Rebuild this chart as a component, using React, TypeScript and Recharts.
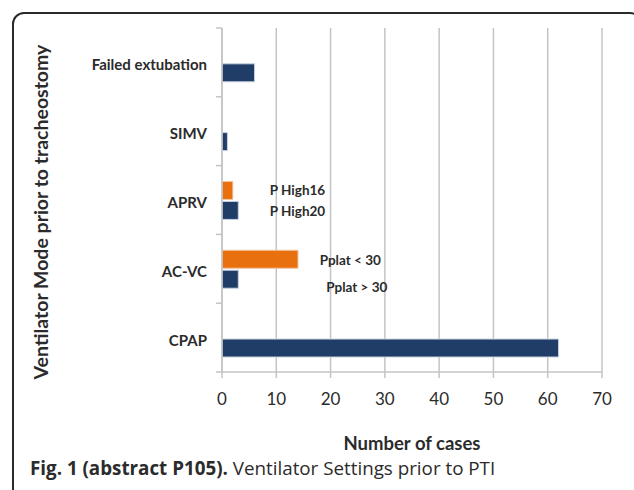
import React from "react";
import {
  BarChart,
  Bar,
  XAxis,
  YAxis,
  CartesianGrid,
  ReferenceDot,
  Label,
} from "recharts";

const modes = ["Failed extubation", "SIMV", "APRV", "AC-VC", "CPAP"];
const lowPressureCases = [0, 0, 2, 14, 0];
const highPressureCases = [6, 1, 3, 3, 62];
const caseTicks = [0, 10, 20, 30, 40, 50, 60, 70];

// bar annotations (text, category, position on the case axis)
const noteTexts = ["P High16", "P High20", "Pplat < 30", "Pplat > 30"];
const noteModes = ["APRV", "APRV", "AC-VC", "AC-VC"];
const noteAt = [8.8, 8.8, 18, 19.2];

const noteDy = [-10, 11, -9, 18];

const data = modes.map((mode, i) => ({
  mode,
  low: lowPressureCases[i],
  high: highPressureCases[i],
}));

const FONT = "Lato, 'Open Sans', sans-serif";
const BLUE = "#203d68";
const ORANGE = "#e8700e";
const GRID = "#c4c4c4";
const TICK_GAP = 15;

const CategoryTick = (props: any) => {
  const { x, y, payload, index } = props;
  const half = payload?.offset ?? 34.4;
  const axisX = x + TICK_GAP;
  return (
    <g>
      <text
        x={x}
        y={y}
        dy={8}
        textAnchor="end"
        fontFamily={FONT}
        fontWeight={700}
        fontSize={15}
        fill="#2b2b2b"
      >
        {payload.value}
      </text>
      <line x1={axisX - 6} x2={axisX} y1={y + half} y2={y + half} stroke={GRID} strokeWidth={1.5} />
      {index === 0 && (
        <line x1={axisX - 6} x2={axisX} y1={y - half} y2={y - half} stroke={GRID} strokeWidth={1.5} />
      )}
    </g>
  );
};

const YTitle = (props: any) => {
  const vb = props.viewBox || { x: 0, y: 0, width: 0, height: 0 };
  const cx = 40;
  const cy = vb.y + vb.height / 2 + 12;
  return (
    <text
      x={cx}
      y={cy}
      transform={`rotate(-90, ${cx}, ${cy})`}
      textAnchor="middle"
      dominantBaseline="central"
      fontFamily={FONT}
      fontWeight={700}
      fontSize={19.5}
      fill="#2b2b2b"
    >
      Ventilator Mode prior to tracheostomy
    </text>
  );
};

export default function App() {
  return (
    <div
      style={{
        position: "absolute",
        left: 0,
        top: 0,
        width: 634,
        height: 490,
        overflow: "hidden",
        background: "#fff",
      }}
    >
      {/* rounded frame */}
      <div
        style={{
          position: "absolute",
          left: 12,
          top: 12,
          width: 630,
          height: 520,
          border: "2px solid #2a2a2a",
          borderRadius: 12,
          boxSizing: "border-box",
        }}
      />

      <div style={{ position: "absolute", left: 0, top: 0 }}>
        <BarChart
          width={634}
          height={470}
          data={data}
          layout="vertical"
          margin={{ top: 28, right: 32, left: 0, bottom: 16 }}
          barCategoryGap="23%"
          barGap={2}
        >
          <CartesianGrid horizontal={false} stroke={GRID} strokeWidth={1.5} />
          <XAxis
            type="number"
            domain={[0, 70]}
            ticks={caseTicks}
            height={82}
            axisLine={{ stroke: GRID, strokeWidth: 1.5 }}
            tickLine={{ stroke: GRID, strokeWidth: 1.5 }}
            tickSize={6}
            tickMargin={15}
            tick={{ fill: "#2b2b2b", fontSize: 17, fontFamily: FONT }}
          >
            <Label
              value="Number of cases"
              position="insideBottom"
              offset={4}
              style={{
                fontFamily: FONT,
                fontWeight: 700,
                fontSize: 18.5,
                fill: "#2b2b2b",
              }}
            />
          </XAxis>
          <YAxis
            type="category"
            dataKey="mode"
            width={222}
            axisLine={{ stroke: GRID, strokeWidth: 1.5 }}
            tickLine={false}
            tickSize={0}
            tickMargin={TICK_GAP}
            tick={<CategoryTick />}
            interval={0}
          >
            <Label content={<YTitle />} />
          </YAxis>
          <Bar
            dataKey="low"
            fill={ORANGE}
            stroke="#f3c7a3"
            strokeWidth={1}
            isAnimationActive={false}
          />
          <Bar
            dataKey="high"
            fill={BLUE}
            stroke="#c9d2e0"
            strokeWidth={1}
            isAnimationActive={false}
          />
          {noteTexts.map((text, i) => (
            <ReferenceDot
              key={text}
              x={noteAt[i]}
              y={noteModes[i]}
              r={0}
              ifOverflow="visible"
              shape={(p: any) => (
                <text
                  x={p.cx}
                  y={p.cy + noteDy[i]}
                  dominantBaseline="central"
                  fontFamily={FONT}
                  fontWeight={700}
                  fontSize={13.5}
                  fill="#2b2b2b"
                >
                  {text}
                </text>
              )}
            />
          ))}
        </BarChart>
      </div>

      <div
        style={{
          position: "absolute",
          left: 30,
          top: 458,
          fontFamily: "'Open Sans', sans-serif",
          fontSize: 18.8,
          color: "#2b2b2b",
          whiteSpace: "nowrap",
          lineHeight: "20px",
        }}
      >
        <b>Fig. 1 (abstract P105).</b> Ventilator Settings prior to PTI
      </div>
    </div>
  );
}
